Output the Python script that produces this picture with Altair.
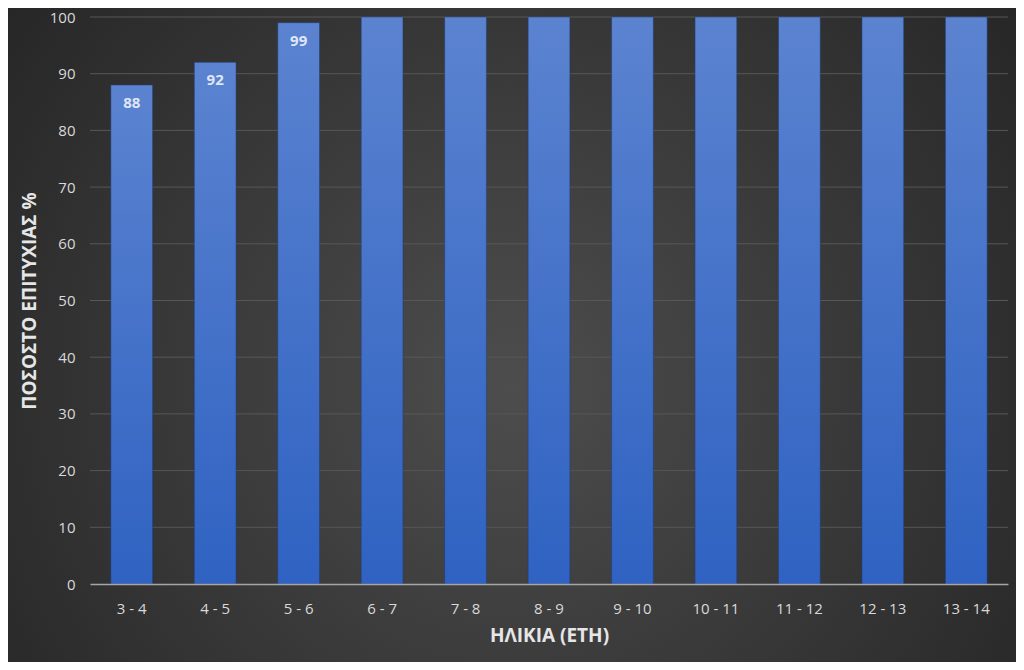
import altair as alt
import pandas as pd

categories = ["3 - 4", "4 - 5", "5 - 6", "6 - 7", "7 - 8", "8 - 9", "9 - 10",
              "10 - 11", "11 - 12", "12 - 13", "13 - 14"]
values = [88, 92, 99, 100, 100, 100, 100, 100, 100, 100, 100]
y_ticks = [0, 10, 20, 30, 40, 50, 60, 70, 80, 90, 100]

df = pd.DataFrame({"age": categories, "value": values})
grid_df = pd.DataFrame({"tick": y_ticks[1:]})

W, H = 918, 567
PL, PT, PR, PB = 82, 9, 8, 78

FONT = "Open Sans"

bg = alt.Chart(pd.DataFrame({"a": [0]})).mark_rect(
    fill={
        "gradient": "radial",
        "x1": 0.5, "y1": 0.55, "x2": 0.5, "y2": 0.55,
        "r1": 0, "r2": 0.75,
        "stops": [
            {"offset": 0, "color": "#4d4d4d"},
            {"offset": 1, "color": "#1f1f1f"},
        ],
    }
).encode(
    x=alt.value(-PL), x2=alt.value(W + PR),
    y=alt.value(-PT), y2=alt.value(H + PB),
)

grid = alt.Chart(grid_df).mark_rule(color="#575757", strokeWidth=1).encode(
    y=alt.Y("tick:Q", scale=alt.Scale(domain=[0, 100])),
    x=alt.value(0), x2=alt.value(W),
)

xs = alt.X("age:N", sort=categories,
           scale=alt.Scale(paddingInner=0.5, paddingOuter=0.25),
           axis=alt.Axis(title="ΗΛΙΚΙΑ (ΕΤΗ)", labelAngle=0, ticks=False,
                         domainColor="#a6a6a6", domainWidth=1.5,
                         labelPadding=17, titlePadding=10, zindex=1))
ys = alt.Y("value:Q", scale=alt.Scale(domain=[0, 100]),
           axis=alt.Axis(title="ΠΟΣΟΣΤΟ ΕΠΙΤΥΧΙΑΣ %", values=y_ticks,
                         ticks=False, domain=False, labelPadding=15,
                         titlePadding=10, grid=False, zindex=1))

bars = alt.Chart(df).mark_bar(
    fill={
        "gradient": "linear", "x1": 0, "y1": 0, "x2": 0, "y2": 1,
        "stops": [
            {"offset": 0, "color": "#5b83d0"},
            {"offset": 1, "color": "#2f62c2"},
        ],
    },
    stroke="#1f3f7a", strokeWidth=0.5,
).encode(x=xs, y=ys)

labels = alt.Chart(df).transform_filter("datum.value < 100").mark_text(
    dy=18, color="#dfe6f6", fontWeight="bold", fontSize=15, font=FONT
).encode(
    x=alt.X("age:N", sort=categories),
    y="value:Q",
    text="value:Q",
)

chart = alt.layer(bg, grid, bars, labels).properties(
    width=W, height=H,
    padding={"left": PL, "top": PT, "right": PR, "bottom": PB},
    autosize=alt.AutoSizeParams(type="none"),
    background="#262626",
).configure_view(stroke=None).configure_axis(
    labelColor="#d9d9d9", labelFontSize=15, labelFont=FONT,
    titleColor="#e6e6e6", titleFontSize=19, titleFont=FONT, titleFontWeight="bold",
)

chart.save("out.html", embed_options={"renderer": "svg", "actions": False})
